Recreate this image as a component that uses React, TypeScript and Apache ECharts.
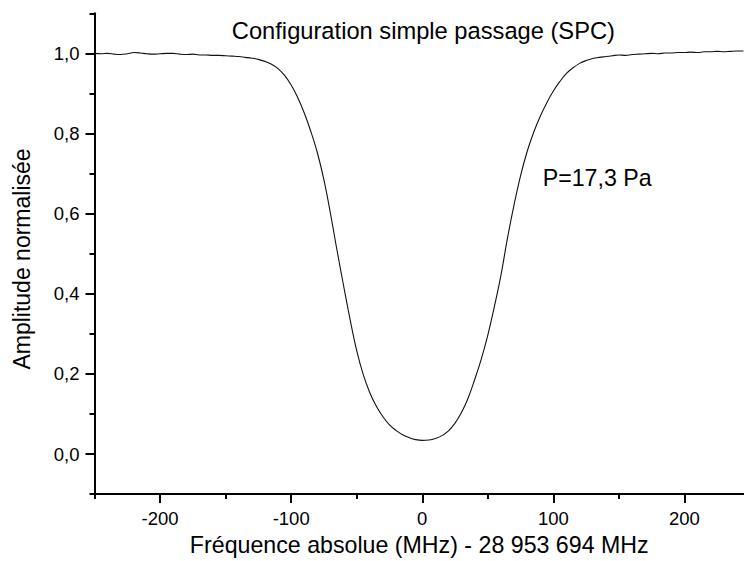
import React, { useEffect, useRef } from "react";
import * as echarts from "echarts";

const FONT = "'Liberation Sans', Arial, Helvetica, sans-serif";

const titleText = "Configuration simple passage (SPC)";
const pressureText = "P=17,3 Pa";
const xName = "Fréquence absolue (MHz) - 28 953 694 MHz";
const yName = "Amplitude normalisée";

const xMajorTicks = [-200, -100, 0, 100, 200];
const xMinorTicks = [-250, -150, -50, 50, 150];
const yMajorTicks = [0, 0.2, 0.4, 0.6, 0.8, 1.0];
const yMinorTicks = [-0.1, 0.1, 0.3, 0.5, 0.7, 0.9, 1.1];

const frequency = [
  -250, -245, -240, -235, -230, -225, -220, -215, -210, -205, -200, -195, -190, -185, -180,
  -175, -170, -165, -160, -155, -150, -145, -140, -135, -130, -125, -120, -115, -110, -105,
  -100, -95, -90, -85, -80, -75, -70, -65, -60, -55, -50, -45, -40, -35, -30, -25, -20, -15,
  -10, -5, 0, 5, 10, 15, 20, 25, 30, 35, 40, 45, 50, 55, 60, 65, 70, 75, 80, 85, 90, 95, 100,
  105, 110, 115, 120, 125, 130, 135, 140, 145, 150, 155, 160, 165, 170, 175, 180, 185, 190,
  195, 200, 205, 210, 215, 220, 225, 230, 235, 240, 245,
];

const amplitude = [
  1.0, 0.999, 1.0, 0.998, 0.997, 0.999, 1.002, 1.001, 0.999, 0.998, 0.999, 1.0, 1.0, 0.998,
  0.997, 0.998, 0.996, 0.996, 0.995, 0.995, 0.994, 0.993, 0.992, 0.99, 0.988, 0.985, 0.98,
  0.973, 0.962, 0.945, 0.921, 0.89, 0.851, 0.805, 0.752, 0.684, 0.6, 0.508, 0.42, 0.335, 0.258,
  0.198, 0.153, 0.119, 0.093, 0.073, 0.059, 0.048, 0.041, 0.036, 0.034, 0.035, 0.039, 0.046,
  0.058, 0.077, 0.104, 0.14, 0.186, 0.237, 0.297, 0.368, 0.446, 0.539, 0.622, 0.695, 0.755,
  0.803, 0.843, 0.877, 0.906, 0.93, 0.95, 0.964, 0.975, 0.982, 0.987, 0.99, 0.992, 0.994,
  0.996, 0.995, 0.997, 0.998, 0.999, 1.0, 0.999, 1.001, 1.001, 1.002, 1.002, 1.003, 1.002,
  1.004, 1.004, 1.005, 1.004, 1.005, 1.006, 1.006,
];

const X_MIN = -250;
const X_MAX = 245.4;
const Y_MIN = -0.1;
const Y_MAX = 1.1;

export default function App() {
  const ref = useRef<HTMLDivElement>(null);

  useEffect(() => {
    if (!ref.current) return;
    const chart = echarts.init(ref.current, null, { renderer: "svg" });
    const axisColor = "#000";
    const fmt = (v: number) => v.toFixed(1).replace(".", ",");

    chart.setOption({
      animation: false,
      backgroundColor: "#fff",
      grid: { left: 94.5, right: 0, top: 13.3, bottom: 65, containLabel: false },
      xAxis: [
        {
          type: "value",
          position: "bottom",
          min: X_MIN,
          max: X_MAX,
          axisLine: { show: true, onZero: false, lineStyle: { color: axisColor, width: 2 } },
          axisTick: {
            show: true,
            length: 9,
            customValues: xMajorTicks,
            lineStyle: { color: axisColor, width: 2 },
          },
          axisLabel: {
            show: true,
            customValues: xMajorTicks,
            fontSize: 18.5,
            fontFamily: FONT,
            color: "#000",
            margin: 15,
          },
          splitLine: { show: false },
          name: xName,
          nameLocation: "middle",
          nameGap: 31,
          nameTextStyle: { fontSize: 23.2, fontFamily: FONT, color: "#000" },
        },
        {
          type: "value",
          position: "bottom",
          min: X_MIN,
          max: X_MAX,
          axisLine: { show: false, onZero: false },
          axisTick: {
            show: true,
            length: 5,
            customValues: xMinorTicks,
            lineStyle: { color: axisColor, width: 2 },
          },
          axisLabel: { show: false },
          splitLine: { show: false },
        },
      ],
      yAxis: [
        {
          type: "value",
          position: "left",
          min: Y_MIN,
          max: Y_MAX,
          axisLine: { show: true, onZero: false, lineStyle: { color: axisColor, width: 2 } },
          axisTick: {
            show: true,
            length: 9,
            customValues: yMajorTicks,
            lineStyle: { color: axisColor, width: 2 },
          },
          axisLabel: {
            show: true,
            customValues: yMajorTicks,
            formatter: fmt,
            fontSize: 18.5,
            fontFamily: FONT,
            color: "#000",
            margin: 15,
          },
          splitLine: { show: false },
        },
        {
          type: "value",
          position: "left",
          min: Y_MIN,
          max: Y_MAX,
          axisLine: { show: false, onZero: false },
          axisTick: {
            show: true,
            length: 5,
            customValues: yMinorTicks,
            lineStyle: { color: axisColor, width: 2 },
          },
          axisLabel: { show: false },
          splitLine: { show: false },
        },
      ],
      series: [
        {
          type: "line",
          xAxisIndex: 0,
          yAxisIndex: 0,
          data: frequency.map((f, i) => [f, amplitude[i]]),
          showSymbol: false,
          smooth: 0.4,
          lineStyle: { color: "#111", width: 1.1 },
          clip: true,
        },
      ],
      graphic: [
        {
          type: "text",
          x: 423.4,
          y: 31,
          style: {
            text: titleText,
            fontSize: 23.7,
            fontFamily: FONT,
            fill: "#000",
            textAlign: "center",
            textVerticalAlign: "middle",
          },
        },
        {
          type: "text",
          x: 542.7,
          y: 178,
          style: {
            text: pressureText,
            fontSize: 23.2,
            fontFamily: FONT,
            fill: "#000",
            textAlign: "left",
            textVerticalAlign: "middle",
          },
        },
        {
          type: "text",
          x: 22,
          y: 259,
          rotation: Math.PI / 2,
          style: {
            text: yName,
            fontSize: 23,
            fontFamily: FONT,
            fill: "#000",
            textAlign: "center",
            textVerticalAlign: "middle",
          },
        },
      ],
    });

    return () => chart.dispose();
  }, []);

  return (
    <div
      ref={ref}
      style={{ position: "absolute", left: 0, top: 0, width: 744, height: 561 }}
    />
  );
}
